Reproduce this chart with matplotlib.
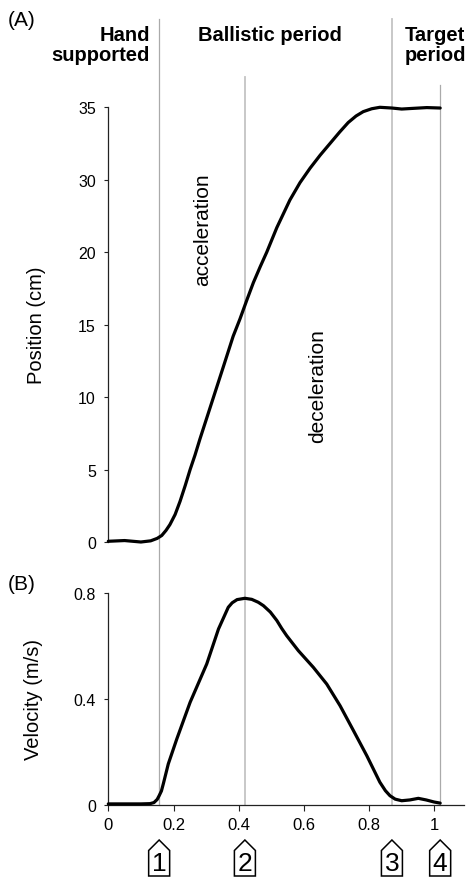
import matplotlib
matplotlib.use("Agg")
import matplotlib.pyplot as plt
from matplotlib.lines import Line2D
from matplotlib.patches import Polygon
from matplotlib.transforms import blended_transform_factory

plt.rcParams['font.family'] = ['Liberation Sans', 'DejaVu Sans']

# ---------------- data ----------------
time_pos = [0.0, 0.05, 0.10, 0.13, 0.150, 0.164, 0.177, 0.189, 0.205, 0.220,
            0.236, 0.251, 0.266, 0.281, 0.317, 0.353, 0.383, 0.404, 0.425, 0.445,
            0.466, 0.486, 0.517, 0.557, 0.588, 0.619, 0.650, 0.680, 0.710, 0.736,
            0.760, 0.782, 0.808, 0.833, 0.870, 0.900, 0.930, 0.977, 1.018]
position = [0.05, 0.1, 0.0, 0.08, 0.25, 0.45, 0.8, 1.2, 1.9, 2.8,
            3.9, 5.0, 6.0, 7.1, 9.6, 12.1, 14.2, 15.4, 16.7, 17.9,
            19.0, 20.0, 21.7, 23.6, 24.8, 25.8, 26.7, 27.5, 28.3, 28.95,
            29.4, 29.7, 29.9, 30.0, 29.95, 29.88, 29.92, 29.98, 29.95]

time_vel = [0.0, 0.10, 0.128, 0.140, 0.150, 0.156, 0.163, 0.169, 0.184, 0.210,
            0.251, 0.302, 0.338, 0.368, 0.380, 0.395, 0.419, 0.440, 0.460, 0.476,
            0.497, 0.517, 0.532, 0.547, 0.583, 0.629, 0.670, 0.711, 0.752, 0.793,
            0.833, 0.850, 0.864, 0.880, 0.900, 0.925, 0.951, 0.975, 1.000, 1.018]
velocity = [0.003, 0.003, 0.004, 0.008, 0.020, 0.034, 0.052, 0.080, 0.154, 0.248,
            0.387, 0.532, 0.664, 0.746, 0.763, 0.775, 0.780, 0.776, 0.765, 0.752,
            0.728, 0.696, 0.666, 0.639, 0.582, 0.519, 0.456, 0.374, 0.280, 0.185,
            0.085, 0.053, 0.034, 0.021, 0.015, 0.018, 0.024, 0.018, 0.010, 0.006]

pos_ticks = [0, 5, 10, 15, 20, 25, 30]
pos_tick_labels = ['0', '5', '10', '15', '20', '30', '35']
vel_ticks = [0, 0.4, 0.8]
vel_tick_labels = ['0', '0.4', '0.8']
x_ticks = [0, 0.2, 0.4, 0.6, 0.8, 1.0]
x_tick_labels = ['0', '0.2', '0.4', '0.6', '0.8', '1']

event_x = [0.156, 0.419, 0.870, 1.018]
event_labels = ['1', '2', '3', '4']

# ---------------- figure ----------------
W, H = 472, 878
fig = plt.figure(figsize=(W / 100, H / 100), dpi=100)

def fx(px):
    return px / W

def fy(py):
    return 1 - py / H

x0, x1 = 108.3, 464.0
xmax = (x1 - x0) / 326.0

ax1 = fig.add_axes([fx(x0), fy(543), fx(x1) - fx(x0), fy(108.3) - fy(543)])
ax2 = fig.add_axes([fx(x0), fy(805.7), fx(x1) - fx(x0), fy(594) - fy(805.7)])

spine_col = '#222222'
for ax in (ax1, ax2):
    ax.set_xlim(0, xmax)
    for s in ('top', 'right'):
        ax.spines[s].set_visible(False)
    ax.spines['left'].set_color(spine_col)
    ax.spines['left'].set_linewidth(0.9)
    ax.tick_params(axis='y', direction='out', length=3, width=0.8,
                   colors=spine_col, labelsize=11.5, pad=6, labelcolor='black')
    ax.patch.set_alpha(0)

ax1.spines['bottom'].set_visible(False)
ax1.set_xticks([])
ax1.set_ylim(0, 30)
ax1.set_yticks(pos_ticks)
ax1.set_yticklabels(pos_tick_labels)
ax1.plot(time_pos, position, color='black', lw=2.3, clip_on=False,
         solid_capstyle='round', solid_joinstyle='round', zorder=5)
ax1.set_ylabel('Position (cm)', fontsize=14.5, labelpad=0)
ax1.yaxis.set_label_coords(fx(46 - x0) / (fx(x1) - fx(x0)), 0.5)

ax2.spines['bottom'].set_color(spine_col)
ax2.spines['bottom'].set_linewidth(0.9)
ax2.set_ylim(0, 0.8)
ax2.set_yticks(vel_ticks)
ax2.set_yticklabels(vel_tick_labels)
ax2.set_xticks(x_ticks)
ax2.set_xticklabels(x_tick_labels)
ax2.tick_params(axis='x', direction='out', length=4, width=0.8,
                colors=spine_col, labelsize=12, pad=5, labelcolor='black')
ax2.plot(time_vel, velocity, color='black', lw=2.3, clip_on=False,
         solid_capstyle='round', solid_joinstyle='round', zorder=5)
ax2.set_ylabel('Velocity (m/s)', fontsize=14.5)
ax2.yaxis.set_label_coords(fx(43 - x0) / (fx(x1) - fx(x0)), 0.5)

# vertical event lines spanning both panels
blend = blended_transform_factory(ax2.transData, fig.transFigure)
line_tops = [20, 78, 20, 86]
line_cols = ['#aaaaaa', '#c4c4c4', '#c4c4c4', '#aaaaaa']
line_ws = [0.9, 1.3, 1.3, 0.9]
for xe, top, c, lw in zip(event_x, line_tops, line_cols, line_ws):
    fig.add_artist(Line2D([xe, xe], [fy(805.7), fy(top)], transform=blend,
                          color=c, lw=lw, zorder=0))

# house-shaped event markers
hw = 10.5 / 326.0
for xe, lab in zip(event_x, event_labels):
    pts = [(xe - hw, fy(877)), (xe - hw, fy(851.5)), (xe, fy(841)),
           (xe + hw, fy(851.5)), (xe + hw, fy(877))]
    fig.add_artist(Polygon(pts, closed=True, transform=blend, facecolor='white',
                           edgecolor='black', lw=1.1))
    fig.text(xe, fy(864.5), lab, transform=blend, ha='center', va='center',
             fontsize=19)

# panel titles
fig.text(fx(8), fy(21), '(A)', fontsize=15, ha='left', va='center')
fig.text(fx(8), fy(584), '(B)', fontsize=15, ha='left', va='center')
fig.text(fx(150), fy(40.7), 'Hand', fontsize=14.5, fontweight='bold',
         ha='right', va='baseline')
fig.text(fx(150), fy(61), 'supported', fontsize=14.5, fontweight='bold',
         ha='right', va='baseline')
fig.text(fx(270), fy(40.7), 'Ballistic period', fontsize=14.5,
         fontweight='bold', ha='center', va='baseline')
fig.text(fx(405), fy(40.7), 'Target', fontsize=14.5, fontweight='bold',
         ha='left', va='baseline')
fig.text(fx(405), fy(61), 'period', fontsize=14.5, fontweight='bold',
         ha='left', va='baseline')

fig.text(fx(203), fy(230), 'acceleration', fontsize=15, rotation=90,
         ha='center', va='center')
fig.text(fx(318), fy(386), 'deceleration', fontsize=15, rotation=90,
         ha='center', va='center')

fig.savefig('out.png', dpi=100)
